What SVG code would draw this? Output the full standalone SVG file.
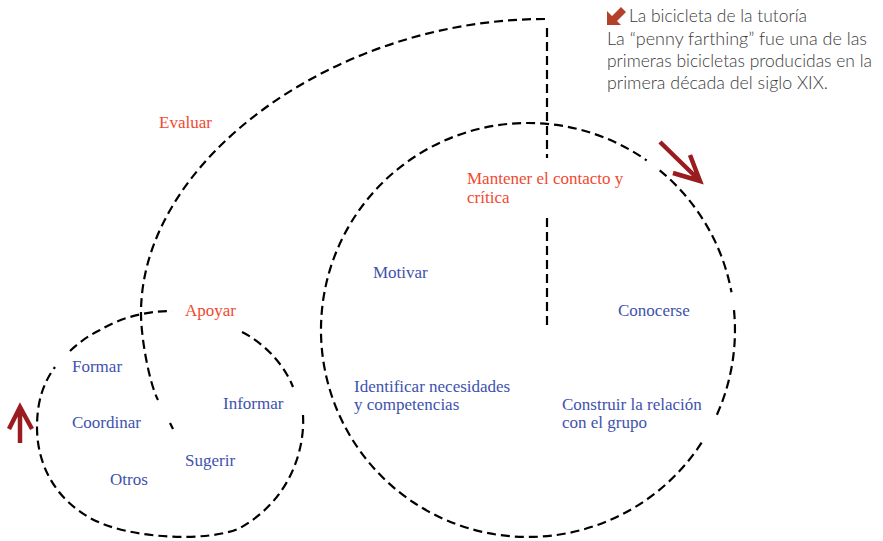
<svg xmlns="http://www.w3.org/2000/svg" width="883" height="541" viewBox="0 0 883 541">
<style>
.d{fill:none;stroke:#000;stroke-width:2.2;stroke-dasharray:9 5}
.r{font-family:"Liberation Serif","Times New Roman",serif;font-size:17px;fill:#f0492f}
.b{font-family:"Liberation Serif","Times New Roman",serif;font-size:17px;fill:#4052ad}
.n{font-family:"Lato","Open Sans","Liberation Sans",sans-serif;font-size:18px;font-weight:300;fill:#3a3a3a}
.a{fill:none;stroke:#9b1c1f;stroke-width:4.5;stroke-linecap:butt;stroke-linejoin:miter}
</style>
<rect width="883" height="541" fill="#fff"/>
<g id="connectors">
  <path class="d" d="M545 19 C335 19 141 160 141 313 C141 340 150 385 158 400"/>
  <path class="d" style="stroke-dasharray:none" d="M170 423 L173 429"/>
  <path class="d" d="M547 28 L547 158 M547 218 L547 330"/>
  <path class="d" d="M701.6 442.7 A207 207 0 1 1 646.7 160.4 M659.7 170.3 A207 207 0 0 1 731.5 292.3 M734 310.2 A207 207 0 0 1 716.1 416.5"/>
  <path class="d" d="M242 332 C262 342 283 362 293 387 M303 415 C305 450 290 500 240 528 C210 542 130 540 90 518 C55 498 37 465 37 427 C37 400 44 382 55 367 M70 351 C82 340 90 335 100 330 C120 318 145 311 172 311"/>
  <path class="a" d="M660 142 L699 180 M690 155 L700 181 L673 173"/>
  <path class="a" d="M20 443 L20 408 M9 429 L20 407 L32 429"/>
</g>
<g id="legend">
  <polygon points="607,25 607,11 612,16 621,7 626,12 617,21 621,25" fill="#b5402a"/>
  <text class="n" x="629" y="22" textLength="178" lengthAdjust="spacingAndGlyphs">La bicicleta de la tutoría</text>
  <text class="n" x="607" y="45" textLength="260" lengthAdjust="spacingAndGlyphs">La “penny farthing” fue una de las</text>
  <text class="n" x="607" y="67" textLength="265" lengthAdjust="spacingAndGlyphs">primeras bicicletas producidas en la</text>
  <text class="n" x="607" y="89" textLength="221" lengthAdjust="spacingAndGlyphs">primera década del siglo XIX.</text>
</g>
<g id="evaluar"><text class="r" x="159" y="128">Evaluar</text></g>
<g id="mantener"><text class="r" x="467" y="184">Mantener el contacto y<tspan x="467" y="202.5">crítica</tspan></text></g>
<g id="motivar"><text class="b" x="373" y="278">Motivar</text></g>
<g id="conocerse"><text class="b" x="618" y="316">Conocerse</text></g>
<g id="identificar"><text class="b" x="354" y="392">Identificar necesidades<tspan x="354" y="410">y competencias</tspan></text></g>
<g id="construir"><text class="b" x="562" y="410">Construir la relación<tspan x="562" y="428">con el grupo</tspan></text></g>
<g id="apoyar"><text class="r" x="185" y="316">Apoyar</text></g>
<g id="formar"><text class="b" x="72" y="372">Formar</text></g>
<g id="coordinar"><text class="b" x="72" y="428">Coordinar</text></g>
<g id="informar"><text class="b" x="223" y="409">Informar</text></g>
<g id="sugerir"><text class="b" x="185" y="466">Sugerir</text></g>
<g id="otros"><text class="b" x="110" y="485">Otros</text></g>
</svg>
